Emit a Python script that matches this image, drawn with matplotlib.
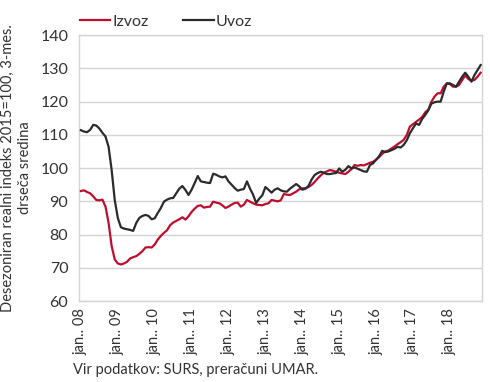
import matplotlib
matplotlib.use("Agg")
import matplotlib.pyplot as plt
import numpy as np

plt.rcParams['font.family'] = ['Lato', 'DejaVu Sans']

years = ['08', '09', '10', '11', '12', '13', '14', '15', '16', '17', '18']
tick_labels = ['jan.. ' + y for y in years]

izvoz = [93.1, 93.3, 92.8, 92.4, 91.5, 90.4, 90.3, 90.5, 88.4, 83.5, 76.5, 72.5,
         71.3, 71.0, 71.3, 71.8, 72.8, 73.2, 73.5, 74.2, 75.0, 76.1, 76.2, 76.1,
         77.0, 78.5, 79.6, 80.5, 81.3, 82.8, 83.6, 84.1, 84.6, 85.2, 84.5, 85.5,
         86.8, 87.8, 88.6, 88.8, 88.1, 88.3, 88.4, 89.9, 89.6, 89.4, 88.8, 88.0,
         88.4, 89.0, 89.5, 89.6, 88.4, 89.0, 90.4, 89.9, 89.4, 89.0, 88.9, 88.8,
         89.2, 89.4, 90.4, 90.2, 90.0, 90.3, 92.2, 92.0, 91.9, 92.4, 92.9, 93.6,
         93.9, 93.9, 94.3, 94.9, 95.8, 96.9, 97.8, 98.6, 99.0, 99.4, 99.2, 98.9,
         98.6, 98.4, 98.2, 98.9, 99.7, 100.9, 100.7, 100.9, 100.8, 101.2, 101.6, 101.9,
         102.5, 103.3, 104.3, 105.0, 105.3, 105.9, 106.5, 107.2, 107.8, 108.5, 110.0, 112.5,
         113.2, 113.9, 114.6, 115.4, 116.8, 117.6, 120.0, 121.5, 122.5, 122.5, 124.5, 125.4,
         125.3, 124.5, 124.5, 125.0, 126.5, 127.9, 126.8, 126.3, 126.5, 127.5, 128.7]

uvoz = [111.4, 111.0, 110.8, 111.5, 113.0, 112.8, 111.9, 110.6, 109.5, 106.4, 99.4, 90.4,
        85.0, 82.2, 81.8, 81.6, 81.4, 81.1, 83.5, 85.0, 85.6, 85.9, 85.6, 84.6,
        84.9, 86.5, 88.0, 89.9, 90.5, 90.9, 91.0, 92.4, 93.8, 94.6, 93.4, 91.9,
        93.5, 95.5, 97.6, 96.0, 95.8, 95.6, 95.5, 98.3, 98.0, 97.5, 97.2, 97.5,
        96.0, 95.0, 94.0, 93.2, 93.5, 93.7, 96.0, 93.8, 92.0, 89.5, 90.8, 91.8,
        94.3, 93.5, 92.6, 93.5, 93.9, 93.3, 93.0, 92.9, 93.8, 94.5, 95.2, 94.5,
        93.5, 93.8, 94.6, 96.5, 97.9, 98.5, 98.9, 98.6, 98.2, 98.2, 98.4, 98.5,
        99.9, 98.9, 99.5, 100.6, 99.9, 100.2, 99.8, 99.4, 99.0, 98.9, 100.9, 101.4,
        102.5, 103.6, 105.2, 104.8, 105.0, 105.4, 105.8, 106.4, 106.2, 107.0, 108.4, 110.5,
        112.0, 113.4, 113.0, 114.8, 116.0, 117.4, 119.4, 119.8, 120.0, 120.0, 123.0, 125.5,
        125.5, 125.0, 124.5, 126.0, 127.5, 128.7, 127.5, 126.0, 128.0, 129.5, 131.0]

red = '#C00D2E'
dark = '#2B2B2B'
grid_c = '#D4D4D4'
txt = '#333333'

fig = plt.figure(figsize=(4.9, 3.82), dpi=100)
ax = fig.add_axes([0.162, 0.212, 0.822, 0.696])

x = np.arange(len(izvoz))
ax.plot(x, izvoz, color=red, lw=1.6, label='Izvoz', zorder=3)
ax.plot(x, uvoz, color=dark, lw=1.6, label='Uvoz', zorder=4)

ax.set_xlim(-0.5, len(izvoz) - 0.5)
ax.set_ylim(60, 140)
ax.set_yticks(np.arange(60, 141, 10))
ax.set_xticks(np.arange(0, len(izvoz), 12))
ax.set_xticklabels(tick_labels, rotation=90, fontsize=10.5, color=txt)
ax.tick_params(axis='y', labelsize=11.5, colors=txt, length=0, pad=8)
ax.tick_params(axis='x', length=0, pad=5)
ax.grid(axis='y', color=grid_c, lw=1)
ax.set_axisbelow(True)
for s in ax.spines.values():
    s.set_color(grid_c)
    s.set_linewidth(1)

ax.set_ylabel('Desezoniran realni indeks 2015=100, 3-mes.\ndrseča sredina',
              fontsize=10.5, color=txt, labelpad=6, linespacing=1.25)

leg = fig.legend(loc='upper left', bbox_to_anchor=(0.134, 1.0), ncol=2, frameon=False,
                 fontsize=11.5, handlelength=1.9, handletextpad=0.15, columnspacing=2.15)
for t in leg.get_texts():
    t.set_color(txt)

fig.text(0.149, 0.022, 'Vir podatkov: SURS, preračuni UMAR.', fontsize=10.5, color=txt)

fig.savefig('out.png', dpi=100)
